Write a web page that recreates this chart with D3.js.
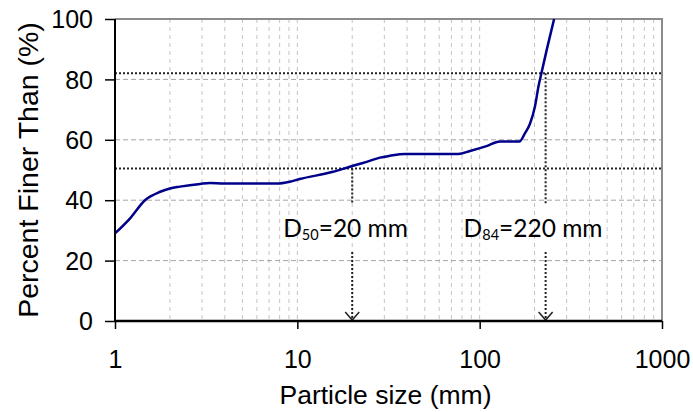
<!DOCTYPE html>
<html>
<head>
<meta charset="utf-8">
<script src="https://cdn.jsdelivr.net/npm/d3@7"></script>
<style>
  body { margin: 0; background: #fff; }
  svg { display: block; }
</style>
</head>
<body>
<div id="chart"></div>
<script>
// grading curve
const sizes = [1, 1.21, 1.46, 1.77, 2.0, 2.27, 2.93, 3.32, 3.93, 7.7, 9.1, 10.3, 15.7, 19.4, 24, 28.4, 32.2, 38.9, 76.4, 88.5, 109, 129, 165, 177, 189, 201, 210, 219, 233, 256]
const percents = [29, 34, 40, 42.8, 43.9, 44.5, 45.4, 45.7, 45.5, 45.5, 46.1, 47, 49.4, 51.1, 52.7, 54.1, 54.7, 55.3, 55.3, 56.3, 57.9, 59.4, 59.4, 62.1, 65.4, 71, 77.6, 82.5, 89.7, 100]

const xTicks = [1, 10, 100, 1000]
const yTicks = [0, 20, 40, 60, 80, 100]
const xGrid = [2, 3, 4, 5, 6, 7, 8, 9, 10, 20, 30, 40, 50, 60, 70, 80, 90, 100, 200, 300, 400, 500, 600, 700, 800, 900]

// D50 / D84 marks
const markLevels = [50.5, 82]
const markSizes = [20, 230]
const markNames = ['50', '84']
const markValues = ['=20 mm', '=220 mm']

const width = 693, height = 412
const padding = { top: 19, left: 115, right: 31, bottom: 91 }
const plotW = width - padding.left - padding.right
const plotH = height - padding.top - padding.bottom

const svg = d3.select('#chart')
  .append('svg')
  .attr('width', width)
  .attr('height', height)
  .style('font-family', 'Arial, "Liberation Sans", sans-serif')

const x = d3.scaleLog().domain([1, 1000]).range([padding.left, padding.left + plotW])
const y = d3.scaleLinear().domain([0, 100]).range([padding.top + plotH, padding.top])

// grid
svg.append('g')
  .selectAll('line')
  .data(xGrid)
  .enter()
  .append('line')
  .attr('x1', d => x(d)).attr('x2', d => x(d))
  .attr('y1', y(100)).attr('y2', y(0))
  .attr('stroke', '#c4c4c4')
  .attr('stroke-width', 1)
  .attr('stroke-dasharray', '4,4')

svg.append('g')
  .selectAll('line')
  .data(yTicks.filter(d => d > 0 && d < 100))
  .enter()
  .append('line')
  .attr('x1', x(1)).attr('x2', x(1000))
  .attr('y1', d => y(d)).attr('y2', d => y(d))
  .attr('stroke', '#a6a6a6')
  .attr('stroke-width', 1)
  .attr('stroke-dasharray', '5,3')

// frame top / right
svg.append('path')
  .attr('d', 'M' + x(1) + ',' + y(100) + 'H' + x(1000) + 'V' + y(0))
  .attr('fill', 'none')
  .attr('stroke', '#8c8c8c')
  .attr('stroke-width', 2)

// dotted D lines
svg.append('g')
  .selectAll('line')
  .data(markLevels)
  .enter()
  .append('line')
  .attr('x1', x(1)).attr('x2', x(1000))
  .attr('y1', d => y(d)).attr('y2', d => y(d))
  .attr('stroke', '#222')
  .attr('stroke-width', 2)
  .attr('stroke-dasharray', '2,2')

const marks = markSizes.map((s, i) => ({ size: s, level: markLevels[i], name: markNames[i], value: markValues[i] }))
const labelY = y(0) - 84

marks.forEach(m => {
  const mx = x(m.size)
  const g = svg.append('g')
  g.append('line')
    .attr('x1', mx).attr('x2', mx)
    .attr('y1', y(m.level)).attr('y2', labelY - 33)
    .attr('stroke', '#222').attr('stroke-width', 2).attr('stroke-dasharray', '2,2')
  g.append('line')
    .attr('x1', mx).attr('x2', mx)
    .attr('y1', labelY + 15).attr('y2', y(0))
    .attr('stroke', '#222').attr('stroke-width', 2).attr('stroke-dasharray', '2,2')
  g.append('path')
    .attr('d', 'M' + (mx - 7) + ',' + (y(0) - 9) + 'L' + mx + ',' + (y(0) - 1) + 'L' + (mx + 7) + ',' + (y(0) - 9))
    .attr('fill', 'none')
    .attr('stroke', '#222')
    .attr('stroke-width', 1.5)
})

// curve
const line = d3.line()
  .x(d => x(d[0]))
  .y(d => y(d[1]))
  .curve(d3.curveMonotoneX)

svg.append('path')
  .attr('d', line(sizes.map((s, i) => [s, percents[i]])))
  .attr('fill', 'none')
  .attr('stroke', '#00008b')
  .attr('stroke-width', 2.5)
  .attr('stroke-linejoin', 'round')

// labels for D marks
const labelOffsets = [-69, -82]
marks.forEach((m, i) => {
  const t = svg.append('text')
    .attr('x', x(m.size) + labelOffsets[i])
    .attr('y', labelY)
    .style('font-family', 'Lato, "Open Sans", sans-serif')
    .style('font-size', '24.5px')
    .attr('fill', '#000')
  t.append('tspan').text('D')
  t.append('tspan').text(m.name).style('font-size', '14.5px').attr('dy', 3)
  t.append('tspan').text(m.value).attr('dy', -3)
})

// axes
const yAxis = d3.axisLeft(y).tickValues(yTicks).tickSize(10).tickPadding(12)
const xAxis = d3.axisBottom(x).tickValues(xTicks).tickFormat(d3.format('d')).tickSize(8).tickPadding(21)

const gy = svg.append('g')
  .attr('transform', 'translate(' + padding.left + ',0)')
  .call(yAxis)
gy.select('.domain').attr('stroke', '#000').attr('stroke-width', 2).attr('d', 'M0,' + y(100) + 'V' + y(0))
gy.selectAll('.tick line').attr('stroke', '#000').attr('stroke-width', 1.5)
gy.selectAll('.tick text').style('font-size', '25px').attr('fill', '#000').attr('dy', '0.35em')

const gx = svg.append('g')
  .attr('transform', 'translate(0,' + y(0) + ')')
  .call(xAxis)
gx.select('.domain').attr('stroke', '#000').attr('stroke-width', 2.5).attr('d', 'M' + x(1) + ',0H' + x(1000))
gx.selectAll('.tick line').attr('stroke', '#000').attr('stroke-width', 1.5)
gx.selectAll('.tick text').style('font-size', '25px').attr('fill', '#000')

// axis titles
svg.append('text')
  .attr('x', x(1) + plotW / 2 - 3)
  .attr('y', 404)
  .attr('text-anchor', 'middle')
  .style('font-size', '26.5px')
  .text('Particle size (mm)')

svg.append('text')
  .attr('transform', 'translate(38,' + (padding.top + plotH / 2) + ') rotate(-90)')
  .attr('text-anchor', 'middle')
  .style('font-size', '28.5px')
  .text('Percent Finer Than (%)')
</script>
</body>
</html>
